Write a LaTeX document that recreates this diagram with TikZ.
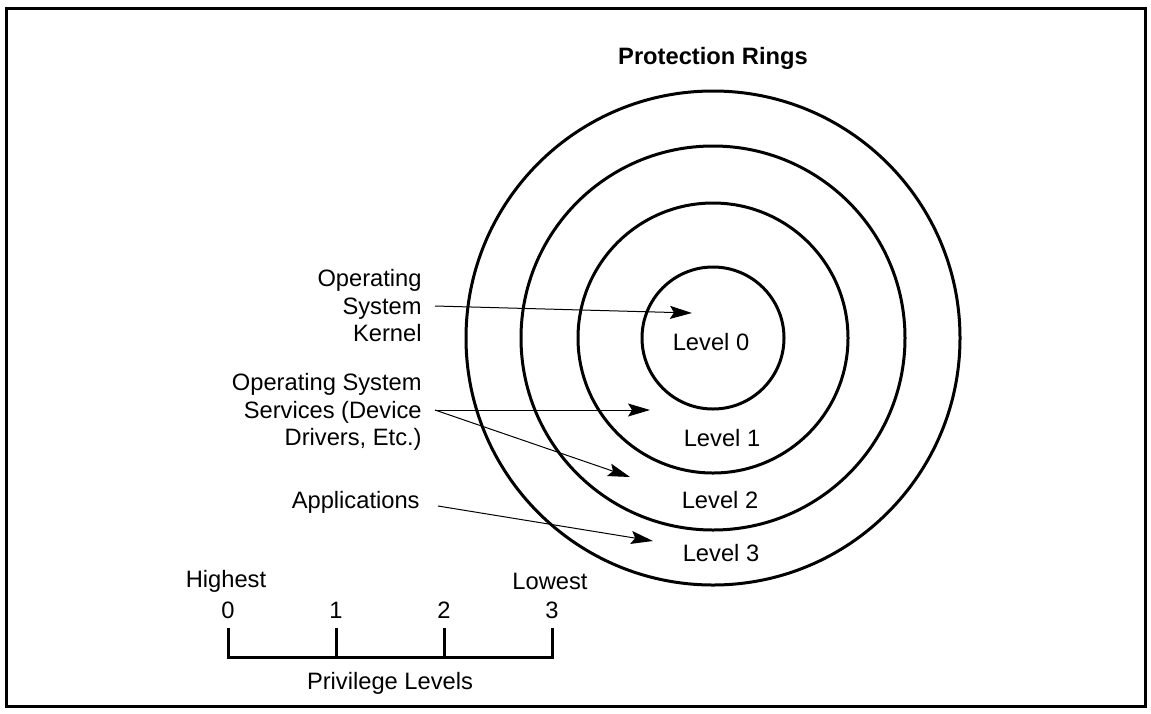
\documentclass[tikz,border=0pt]{standalone}
\usepackage{fontspec}
\setmainfont{Liberation Sans}
\usetikzlibrary{arrows.meta}

\begin{document}
\begin{tikzpicture}[x=0.5pt, y=-0.5pt, font=\fontsize{11.85}{13.75}\selectfont,
    ring/.style={line width=1.5pt},
    ptr/.style={-{Stealth[length=11pt, width=6.5pt, inset=2pt]}, line width=0.5pt},
    lbl/.style={align=right, anchor=east, inner sep=0pt}]
    \useasboundingbox (0,0) rectangle (1151,713);

    % Frame
    \draw[line width=1.5pt] (6,8) rectangle (1145,706);

    % Title
    \node[font=\fontsize{11.85}{13.75}\selectfont\bfseries] (title) at (713,58) {Protection Rings};

    % Rings
    \coordinate (C) at (713,338);
    \foreach \r in {71,135,192,247}
        \draw[ring] (C) circle[radius=\r*0.5pt];

    % Level labels
    \node (lvl0) at (711,342) {Level 0};
    \node (lvl1) at (722,438) {Level 1};
    \node (lvl2) at (720,500) {Level 2};
    \node (lvl3) at (721,553) {Level 3};

    % Descriptions
    \node[lbl] (kernel)   at (422,306) {Operating\\System\\Kernel};
    \node[lbl] (services) at (422,412) {Operating System\\Services (Device\\Drivers, Etc.)};
    \node[lbl] (apps)     at (420,502) {Applications};

    % Arrow targets
    \coordinate (t0) at (692,313);
    \coordinate (t1) at (650,410);
    \coordinate (t2) at (630,477);
    \coordinate (t3) at (653,541);

    \draw[ptr] ([xshift=6.5pt]kernel.east) -- (t0);
    \draw[ptr] ([xshift=6.5pt,yshift=1pt]services.east) -- (t1);
    \draw[ptr] ([xshift=6.5pt,yshift=1pt]services.east) -- (t2);
    \draw[ptr] ([xshift=9pt,yshift=-2pt]apps.east) -- (t3);

    % Privilege scale
    \draw[ring] (228,628) -- (228,657) -- (552,657) -- (552,628);
    \foreach \i/\xx in {0/228,1/336,2/444,3/552} {
        \draw[ring] (\xx,628) -- (\xx,657);
        \node (num\i) at (\xx,610) {\i};
    }
    \node (high)    at (226,581) {Highest};
    \node (low)     at (550,581) {Lowest};
    \node (privlvl) at (390,683) {Privilege Levels};
\end{tikzpicture}
\end{document}
